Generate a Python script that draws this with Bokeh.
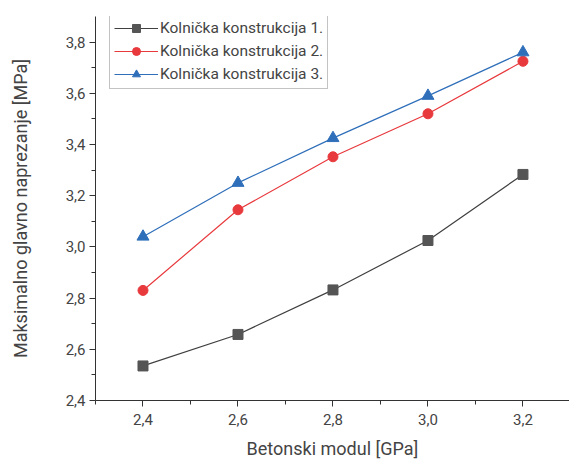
from bokeh.plotting import figure
from bokeh.embed import file_html
from bokeh.resources import INLINE
from bokeh.models import Range1d, FixedTicker, CustomJSTickFormatter, Legend

x_vals = [2.4, 2.6, 2.8, 3.0, 3.2]
s1 = [2.535, 2.658, 2.832, 3.025, 3.283]
s2 = [2.830, 3.145, 3.352, 3.520, 3.725]
s3 = [3.040, 3.250, 3.425, 3.590, 3.760]
names = ["Kolnička konstrukcija 1.", "Kolnička konstrukcija 2.", "Kolnička konstrukcija 3."]
x_ticks = [2.4, 2.6, 2.8, 3.0, 3.2]
y_ticks = [2.4, 2.6, 2.8, 3.0, 3.2, 3.4, 3.6, 3.8]

FONT = "Roboto"
TXT = "#444444"

p = figure(width=569, height=461, output_backend="svg", toolbar_location=None,
           x_range=Range1d(2.3, 3.298), y_range=Range1d(2.4, 3.9),
           min_border_left=95, min_border_right=0, min_border_top=16, min_border_bottom=61)
p.outline_line_color = None
p.grid.visible = False

fmt = CustomJSTickFormatter(code="return tick.toFixed(1).replace('.', ',');")
p.xaxis.ticker = FixedTicker(ticks=x_ticks, minor_ticks=[2.3, 2.5, 2.7, 2.9, 3.1])
p.yaxis.ticker = FixedTicker(ticks=y_ticks, minor_ticks=[2.5, 2.7, 2.9, 3.1, 3.3, 3.5, 3.7])
p.xaxis.formatter = fmt
p.yaxis.formatter = fmt
for ax in (p.xaxis, p.yaxis):
    ax.axis_line_color = "#333333"
    ax.major_tick_line_color = "#333333"
    ax.minor_tick_line_color = "#333333"
    ax.major_tick_out = 6
    ax.major_tick_in = 0
    ax.minor_tick_out = 4
    ax.minor_tick_in = 0
    ax.major_label_text_font = FONT
    ax.major_label_text_font_size = "15px"
    ax.major_label_text_color = TXT
    ax.axis_label_text_font = FONT
    ax.axis_label_text_font_style = "normal"
    ax.axis_label_text_color = TXT
p.xaxis.axis_label = "Betonski modul [GPa]"
p.yaxis.axis_label = "Maksimalno glavno naprezanje [MPa]"
p.xaxis.axis_label_text_font_size = "18px"
p.yaxis.axis_label_text_font_size = "18px"
p.xaxis.axis_label_standoff = 10
p.yaxis.axis_label_standoff = 32
p.xaxis.major_label_standoff = 7
p.yaxis.major_label_standoff = 4

c1, c2, c3 = "#404040", "#e8393d", "#2f6fba"
l1 = p.line(x_vals, s1, line_color=c1, line_width=1.2)
m1 = p.scatter(x_vals, s1, marker="square", size=10, fill_color="#555555", line_color="#555555")
l2 = p.line(x_vals, s2, line_color=c2, line_width=1.2)
m2 = p.scatter(x_vals, s2, marker="circle", size=10, fill_color=c2, line_color=c2)
l3 = p.line(x_vals, s3, line_color=c3, line_width=1.2)
m3 = p.scatter(x_vals, s3, marker="triangle", size=12, fill_color=c3, line_color=c3)

legend = Legend(items=[(names[0], [l1, m1]), (names[1], [l2, m2]), (names[2], [l3, m3])],
                location=(14, 311))
legend.border_line_color = "#888888"
legend.border_line_width = 1
legend.background_fill_color = "white"
legend.background_fill_alpha = 1
legend.label_text_font = FONT
legend.label_text_font_size = "15.5px"
legend.label_text_color = TXT
legend.glyph_width = 44
legend.glyph_height = 20
legend.spacing = 3
legend.padding = 4
legend.margin = 0
legend.label_standoff = 2
p.add_layout(legend, "center")

open("out.html", "w").write(file_html(p, INLINE))
